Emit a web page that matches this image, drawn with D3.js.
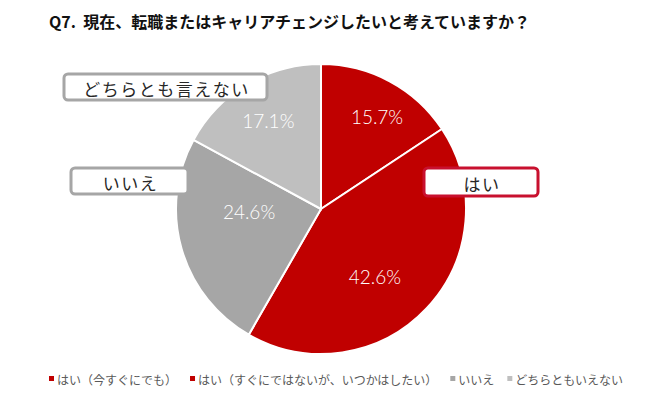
<!DOCTYPE html>
<html>
<head>
<meta charset="utf-8">
<script src="https://cdn.jsdelivr.net/npm/d3@7"></script>
<style>
  body { margin: 0; background: #fff; }
  svg { display: block; }
</style>
</head>
<body>
<div id="chart"></div>
<script>
// datos del gráfico
const categories = ["はい（今すぐにでも）", "はい（すぐにではないが、いつかはしたい）", "いいえ", "どちらともいえない"];
const values = [15.7, 42.6, 24.6, 17.1];
const colors = ["#C00000", "#C00000", "#A6A6A6", "#BFBFBF"];
const calloutTexts = ["どちらとも言えない", "いいえ", "はい"];
const title = "Q7.  現在、転職またはキャリアチェンジしたいと考えていますか？";

const width = 650, height = 395;
const cx = 321, cy = 209, radius = 145;

const svg = d3.select("#chart").append("svg")
    .attr("width", width)
    .attr("height", height);

// título
svg.append("text")
    .attr("x", 49)
    .attr("y", 28)
    .style("font-family", "'Noto Sans CJK JP', sans-serif")
    .style("font-weight", "bold")
    .style("font-size", "16px")
    .style("white-space", "pre")
    .style("fill", "#111")
    .text(title);

// pie
const pie = d3.pie().sort(null).value(d => d);
const arcs = pie(values);
const arc = d3.arc().innerRadius(0).outerRadius(radius);

const g = svg.append("g").attr("transform", `translate(${cx},${cy})`);

g.selectAll("path")
    .data(arcs)
    .enter()
    .append("path")
    .attr("d", arc)
    .attr("fill", (d, i) => colors[i])
    .attr("stroke", "#fff")
    .attr("stroke-width", 2);

// etiquetas de porcentaje (radio y desplazamiento de ángulo por porción)
const labelR = [108, 86, 72, 103];
const labelShift = [3, 8, 14, 0];
g.selectAll("text.pct")
    .data(arcs)
    .enter()
    .append("text")
    .attr("class", "pct")
    .attr("x", (d, i) => {
        const a = (d.startAngle + d.endAngle) / 2 + labelShift[i] * Math.PI / 180;
        return Math.sin(a) * labelR[i];
    })
    .attr("y", (d, i) => {
        const a = (d.startAngle + d.endAngle) / 2 + labelShift[i] * Math.PI / 180;
        return -Math.cos(a) * labelR[i];
    })
    .attr("text-anchor", "middle")
    .attr("dominant-baseline", "central")
    .style("font-family", "Lato, sans-serif")
    .style("font-weight", 300)
    .style("font-size", "19px")
    .style("fill", "#ffffff")
    .text(d => d.value.toFixed(1) + "%");

// cuadros de llamada
const boxes = [
    { x: 64, y: 74, w: 203, h: 26, stroke: "#A6A6A6" },
    { x: 71, y: 168, w: 117, h: 26, stroke: "#A6A6A6" },
    { x: 424, y: 168, w: 114, h: 28, stroke: "#C8102E" }
];
boxes.forEach((b, i) => {
    svg.append("rect")
        .attr("x", b.x).attr("y", b.y)
        .attr("width", b.w).attr("height", b.h)
        .attr("rx", 4)
        .attr("fill", "#fff")
        .attr("stroke", b.stroke)
        .attr("stroke-width", 3);
    svg.append("text")
        .attr("x", b.x + b.w / 2 + 1)
        .attr("y", b.y + b.h / 2 + 1)
        .attr("text-anchor", "middle")
        .attr("dominant-baseline", "central")
        .style("font-family", "'Noto Sans CJK JP', sans-serif")
        .style("font-size", "17px")
        .style("letter-spacing", "1.5px")
        .style("fill", "#262626")
        .text(calloutTexts[i]);
});

// leyenda
const legend = svg.append("g").attr("transform", "translate(49,379)");
let lx = 0;
categories.forEach((c, i) => {
    legend.append("rect")
        .attr("x", lx).attr("y", -3)
        .attr("width", 5).attr("height", 5)
        .attr("fill", colors[i]);
    const t = legend.append("text")
        .attr("x", lx + 8)
        .attr("y", 0)
        .attr("dominant-baseline", "central")
        .style("font-family", "'Noto Sans CJK JP', sans-serif")
        .style("font-size", "12px")
        .style("fill", "#595959")
        .text(c);
    lx += 8 + t.node().getComputedTextLength() + 13;
});
</script>
</body>
</html>
